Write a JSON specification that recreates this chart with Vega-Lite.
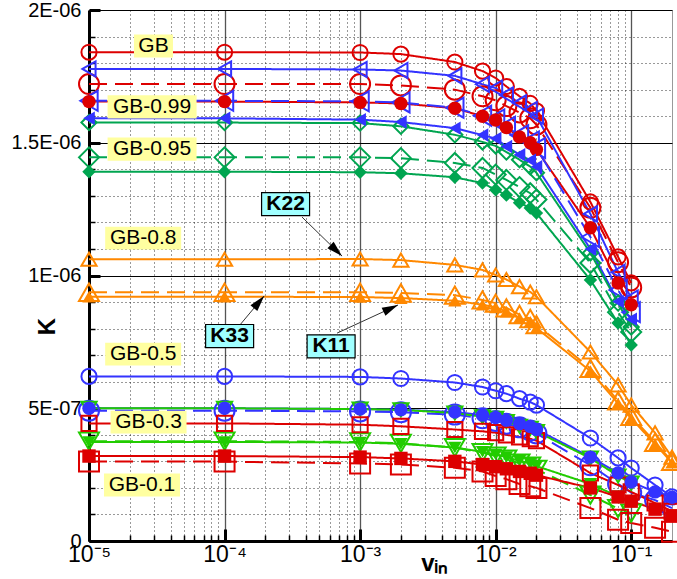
{
"$schema": "https://vega.github.io/schema/vega-lite/v6.json",
"width": 583, "height": 531,
"autosize": {"type": "none"},
"padding": {"left": 89, "top": 10, "right": 5, "bottom": 38},
"config": {"view": {"stroke": "#999", "strokeWidth": 1}, "font": "Liberation Sans"},
"datasets": {
"d": [
{"g":"GB","c":"K22","v":1e-5,"K":1.841e-6},{"g":"GB","c":"K22","v":1e-4,"K":1.841e-6},{"g":"GB","c":"K22","v":0.001,"K":1.840e-6},{"g":"GB","c":"K22","v":0.002,"K":1.834e-6},{"g":"GB","c":"K22","v":0.005,"K":1.804e-6},{"g":"GB","c":"K22","v":0.008,"K":1.770e-6},{"g":"GB","c":"K22","v":0.01,"K":1.744e-6},{"g":"GB","c":"K22","v":0.012,"K":1.712e-6},{"g":"GB","c":"K22","v":0.015,"K":1.675e-6},{"g":"GB","c":"K22","v":0.018,"K":1.648e-6},{"g":"GB","c":"K22","v":0.02,"K":1.620e-6},{"g":"GB","c":"K22","v":0.05,"K":1.277e-6},{"g":"GB","c":"K22","v":0.08,"K":1.070e-6},{"g":"GB","c":"K22","v":0.1,"K":0.972e-6},
{"g":"GB","c":"K33","v":1e-5,"K":1.721e-6},{"g":"GB","c":"K33","v":1e-4,"K":1.721e-6},{"g":"GB","c":"K33","v":0.001,"K":1.721e-6},{"g":"GB","c":"K33","v":0.002,"K":1.716e-6},{"g":"GB","c":"K33","v":0.005,"K":1.700e-6},{"g":"GB","c":"K33","v":0.008,"K":1.675e-6},{"g":"GB","c":"K33","v":0.01,"K":1.660e-6},{"g":"GB","c":"K33","v":0.012,"K":1.638e-6},{"g":"GB","c":"K33","v":0.015,"K":1.614e-6},{"g":"GB","c":"K33","v":0.018,"K":1.592e-6},{"g":"GB","c":"K33","v":0.02,"K":1.568e-6},{"g":"GB","c":"K33","v":0.05,"K":1.255e-6},{"g":"GB","c":"K33","v":0.08,"K":1.050e-6},{"g":"GB","c":"K33","v":0.1,"K":0.955e-6},
{"g":"GB","c":"K11","v":1e-5,"K":1.655e-6},{"g":"GB","c":"K11","v":1e-4,"K":1.655e-6},{"g":"GB","c":"K11","v":0.001,"K":1.652e-6},{"g":"GB","c":"K11","v":0.002,"K":1.648e-6},{"g":"GB","c":"K11","v":0.005,"K":1.630e-6},{"g":"GB","c":"K11","v":0.008,"K":1.600e-6},{"g":"GB","c":"K11","v":0.01,"K":1.586e-6},{"g":"GB","c":"K11","v":0.012,"K":1.557e-6},{"g":"GB","c":"K11","v":0.015,"K":1.522e-6},{"g":"GB","c":"K11","v":0.018,"K":1.500e-6},{"g":"GB","c":"K11","v":0.02,"K":1.475e-6},{"g":"GB","c":"K11","v":0.05,"K":1.180e-6},{"g":"GB","c":"K11","v":0.08,"K":0.972e-6},{"g":"GB","c":"K11","v":0.1,"K":0.890e-6},
{"g":"GB-0.99","c":"K22","v":1e-5,"K":1.778e-6},{"g":"GB-0.99","c":"K22","v":1e-4,"K":1.778e-6},{"g":"GB-0.99","c":"K22","v":0.001,"K":1.776e-6},{"g":"GB-0.99","c":"K22","v":0.002,"K":1.772e-6},{"g":"GB-0.99","c":"K22","v":0.005,"K":1.752e-6},{"g":"GB-0.99","c":"K22","v":0.008,"K":1.720e-6},{"g":"GB-0.99","c":"K22","v":0.01,"K":1.706e-6},{"g":"GB-0.99","c":"K22","v":0.012,"K":1.680e-6},{"g":"GB-0.99","c":"K22","v":0.015,"K":1.650e-6},{"g":"GB-0.99","c":"K22","v":0.018,"K":1.625e-6},{"g":"GB-0.99","c":"K22","v":0.02,"K":1.600e-6},{"g":"GB-0.99","c":"K22","v":0.05,"K":1.232e-6},{"g":"GB-0.99","c":"K22","v":0.08,"K":1.012e-6},{"g":"GB-0.99","c":"K22","v":0.1,"K":0.915e-6},
{"g":"GB-0.99","c":"K33","v":1e-5,"K":1.658e-6},{"g":"GB-0.99","c":"K33","v":1e-4,"K":1.658e-6},{"g":"GB-0.99","c":"K33","v":0.001,"K":1.656e-6},{"g":"GB-0.99","c":"K33","v":0.002,"K":1.652e-6},{"g":"GB-0.99","c":"K33","v":0.005,"K":1.632e-6},{"g":"GB-0.99","c":"K33","v":0.008,"K":1.602e-6},{"g":"GB-0.99","c":"K33","v":0.01,"K":1.588e-6},{"g":"GB-0.99","c":"K33","v":0.012,"K":1.560e-6},{"g":"GB-0.99","c":"K33","v":0.015,"K":1.528e-6},{"g":"GB-0.99","c":"K33","v":0.018,"K":1.505e-6},{"g":"GB-0.99","c":"K33","v":0.02,"K":1.480e-6},{"g":"GB-0.99","c":"K33","v":0.05,"K":1.145e-6},{"g":"GB-0.99","c":"K33","v":0.08,"K":0.945e-6},{"g":"GB-0.99","c":"K33","v":0.1,"K":0.862e-6},
{"g":"GB-0.99","c":"K11","v":1e-5,"K":1.592e-6},{"g":"GB-0.99","c":"K11","v":1e-4,"K":1.592e-6},{"g":"GB-0.99","c":"K11","v":0.001,"K":1.587e-6},{"g":"GB-0.99","c":"K11","v":0.002,"K":1.578e-6},{"g":"GB-0.99","c":"K11","v":0.005,"K":1.555e-6},{"g":"GB-0.99","c":"K11","v":0.008,"K":1.529e-6},{"g":"GB-0.99","c":"K11","v":0.01,"K":1.516e-6},{"g":"GB-0.99","c":"K11","v":0.012,"K":1.486e-6},{"g":"GB-0.99","c":"K11","v":0.015,"K":1.455e-6},{"g":"GB-0.99","c":"K11","v":0.018,"K":1.434e-6},{"g":"GB-0.99","c":"K11","v":0.02,"K":1.410e-6},{"g":"GB-0.99","c":"K11","v":0.05,"K":1.100e-6},{"g":"GB-0.99","c":"K11","v":0.08,"K":0.902e-6},{"g":"GB-0.99","c":"K11","v":0.1,"K":0.835e-6},
{"g":"GB-0.95","c":"K22","v":1e-5,"K":1.576e-6},{"g":"GB-0.95","c":"K22","v":1e-4,"K":1.576e-6},{"g":"GB-0.95","c":"K22","v":0.001,"K":1.574e-6},{"g":"GB-0.95","c":"K22","v":0.002,"K":1.562e-6},{"g":"GB-0.95","c":"K22","v":0.005,"K":1.530e-6},{"g":"GB-0.95","c":"K22","v":0.008,"K":1.503e-6},{"g":"GB-0.95","c":"K22","v":0.01,"K":1.488e-6},{"g":"GB-0.95","c":"K22","v":0.012,"K":1.465e-6},{"g":"GB-0.95","c":"K22","v":0.015,"K":1.436e-6},{"g":"GB-0.95","c":"K22","v":0.018,"K":1.410e-6},{"g":"GB-0.95","c":"K22","v":0.02,"K":1.387e-6},{"g":"GB-0.95","c":"K22","v":0.05,"K":1.085e-6},{"g":"GB-0.95","c":"K22","v":0.08,"K":0.896e-6},{"g":"GB-0.95","c":"K22","v":0.1,"K":0.806e-6},
{"g":"GB-0.95","c":"K33","v":1e-5,"K":1.445e-6},{"g":"GB-0.95","c":"K33","v":1e-4,"K":1.445e-6},{"g":"GB-0.95","c":"K33","v":0.001,"K":1.445e-6},{"g":"GB-0.95","c":"K33","v":0.002,"K":1.442e-6},{"g":"GB-0.95","c":"K33","v":0.005,"K":1.424e-6},{"g":"GB-0.95","c":"K33","v":0.008,"K":1.405e-6},{"g":"GB-0.95","c":"K33","v":0.01,"K":1.380e-6},{"g":"GB-0.95","c":"K33","v":0.012,"K":1.360e-6},{"g":"GB-0.95","c":"K33","v":0.015,"K":1.333e-6},{"g":"GB-0.95","c":"K33","v":0.018,"K":1.310e-6},{"g":"GB-0.95","c":"K33","v":0.02,"K":1.286e-6},{"g":"GB-0.95","c":"K33","v":0.05,"K":1.047e-6},{"g":"GB-0.95","c":"K33","v":0.08,"K":0.862e-6},{"g":"GB-0.95","c":"K33","v":0.1,"K":0.787e-6},
{"g":"GB-0.95","c":"K11","v":1e-5,"K":1.391e-6},{"g":"GB-0.95","c":"K11","v":1e-4,"K":1.391e-6},{"g":"GB-0.95","c":"K11","v":0.001,"K":1.389e-6},{"g":"GB-0.95","c":"K11","v":0.002,"K":1.385e-6},{"g":"GB-0.95","c":"K11","v":0.005,"K":1.370e-6},{"g":"GB-0.95","c":"K11","v":0.008,"K":1.348e-6},{"g":"GB-0.95","c":"K11","v":0.01,"K":1.323e-6},{"g":"GB-0.95","c":"K11","v":0.012,"K":1.303e-6},{"g":"GB-0.95","c":"K11","v":0.015,"K":1.274e-6},{"g":"GB-0.95","c":"K11","v":0.018,"K":1.254e-6},{"g":"GB-0.95","c":"K11","v":0.02,"K":1.235e-6},{"g":"GB-0.95","c":"K11","v":0.05,"K":0.983e-6},{"g":"GB-0.95","c":"K11","v":0.08,"K":0.821e-6},{"g":"GB-0.95","c":"K11","v":0.1,"K":0.738e-6},
{"g":"GB-0.8","c":"K22","v":1e-5,"K":1.061e-6},{"g":"GB-0.8","c":"K22","v":1e-4,"K":1.061e-6},{"g":"GB-0.8","c":"K22","v":0.001,"K":1.062e-6},{"g":"GB-0.8","c":"K22","v":0.002,"K":1.058e-6},{"g":"GB-0.8","c":"K22","v":0.005,"K":1.040e-6},{"g":"GB-0.8","c":"K22","v":0.008,"K":1.021e-6},{"g":"GB-0.8","c":"K22","v":0.01,"K":1.002e-6},{"g":"GB-0.8","c":"K22","v":0.012,"K":0.985e-6},{"g":"GB-0.8","c":"K22","v":0.015,"K":0.958e-6},{"g":"GB-0.8","c":"K22","v":0.018,"K":0.938e-6},{"g":"GB-0.8","c":"K22","v":0.02,"K":0.920e-6},{"g":"GB-0.8","c":"K22","v":0.05,"K":0.712e-6},{"g":"GB-0.8","c":"K22","v":0.08,"K":0.588e-6},{"g":"GB-0.8","c":"K22","v":0.1,"K":0.512e-6},{"g":"GB-0.8","c":"K22","v":0.15,"K":0.407e-6},{"g":"GB-0.8","c":"K22","v":0.2,"K":0.316e-6},
{"g":"GB-0.8","c":"K33","v":1e-5,"K":0.937e-6},{"g":"GB-0.8","c":"K33","v":1e-4,"K":0.937e-6},{"g":"GB-0.8","c":"K33","v":0.001,"K":0.937e-6},{"g":"GB-0.8","c":"K33","v":0.002,"K":0.934e-6},{"g":"GB-0.8","c":"K33","v":0.005,"K":0.926e-6},{"g":"GB-0.8","c":"K33","v":0.008,"K":0.908e-6},{"g":"GB-0.8","c":"K33","v":0.01,"K":0.896e-6},{"g":"GB-0.8","c":"K33","v":0.012,"K":0.878e-6},{"g":"GB-0.8","c":"K33","v":0.015,"K":0.853e-6},{"g":"GB-0.8","c":"K33","v":0.018,"K":0.838e-6},{"g":"GB-0.8","c":"K33","v":0.02,"K":0.815e-6},{"g":"GB-0.8","c":"K33","v":0.05,"K":0.650e-6},{"g":"GB-0.8","c":"K33","v":0.08,"K":0.528e-6},{"g":"GB-0.8","c":"K33","v":0.1,"K":0.470e-6},{"g":"GB-0.8","c":"K33","v":0.15,"K":0.372e-6},{"g":"GB-0.8","c":"K33","v":0.2,"K":0.300e-6},
{"g":"GB-0.8","c":"K11","v":1e-5,"K":0.920e-6},{"g":"GB-0.8","c":"K11","v":1e-4,"K":0.920e-6},{"g":"GB-0.8","c":"K11","v":0.001,"K":0.919e-6},{"g":"GB-0.8","c":"K11","v":0.002,"K":0.915e-6},{"g":"GB-0.8","c":"K11","v":0.005,"K":0.905e-6},{"g":"GB-0.8","c":"K11","v":0.008,"K":0.890e-6},{"g":"GB-0.8","c":"K11","v":0.01,"K":0.880e-6},{"g":"GB-0.8","c":"K11","v":0.012,"K":0.864e-6},{"g":"GB-0.8","c":"K11","v":0.015,"K":0.840e-6},{"g":"GB-0.8","c":"K11","v":0.018,"K":0.826e-6},{"g":"GB-0.8","c":"K11","v":0.02,"K":0.802e-6},{"g":"GB-0.8","c":"K11","v":0.05,"K":0.640e-6},{"g":"GB-0.8","c":"K11","v":0.08,"K":0.518e-6},{"g":"GB-0.8","c":"K11","v":0.1,"K":0.462e-6},{"g":"GB-0.8","c":"K11","v":0.15,"K":0.365e-6},{"g":"GB-0.8","c":"K11","v":0.2,"K":0.295e-6},
{"g":"GB-0.5","c":"K22","v":1e-5,"K":0.620e-6},{"g":"GB-0.5","c":"K22","v":1e-4,"K":0.620e-6},{"g":"GB-0.5","c":"K22","v":0.001,"K":0.618e-6},{"g":"GB-0.5","c":"K22","v":0.002,"K":0.612e-6},{"g":"GB-0.5","c":"K22","v":0.005,"K":0.597e-6},{"g":"GB-0.5","c":"K22","v":0.008,"K":0.580e-6},{"g":"GB-0.5","c":"K22","v":0.01,"K":0.566e-6},{"g":"GB-0.5","c":"K22","v":0.012,"K":0.555e-6},{"g":"GB-0.5","c":"K22","v":0.015,"K":0.536e-6},{"g":"GB-0.5","c":"K22","v":0.018,"K":0.523e-6},{"g":"GB-0.5","c":"K22","v":0.02,"K":0.512e-6},{"g":"GB-0.5","c":"K22","v":0.05,"K":0.388e-6},{"g":"GB-0.5","c":"K22","v":0.08,"K":0.313e-6},{"g":"GB-0.5","c":"K22","v":0.1,"K":0.275e-6},{"g":"GB-0.5","c":"K22","v":0.15,"K":0.211e-6},{"g":"GB-0.5","c":"K22","v":0.2,"K":0.166e-6},
{"g":"GB-0.5","c":"K33","v":1e-5,"K":0.491e-6},{"g":"GB-0.5","c":"K33","v":1e-4,"K":0.491e-6},{"g":"GB-0.5","c":"K33","v":0.001,"K":0.488e-6},{"g":"GB-0.5","c":"K33","v":0.002,"K":0.485e-6},{"g":"GB-0.5","c":"K33","v":0.005,"K":0.476e-6},{"g":"GB-0.5","c":"K33","v":0.008,"K":0.462e-6},{"g":"GB-0.5","c":"K33","v":0.01,"K":0.452e-6},{"g":"GB-0.5","c":"K33","v":0.012,"K":0.442e-6},{"g":"GB-0.5","c":"K33","v":0.015,"K":0.428e-6},{"g":"GB-0.5","c":"K33","v":0.018,"K":0.416e-6},{"g":"GB-0.5","c":"K33","v":0.02,"K":0.405e-6},{"g":"GB-0.5","c":"K33","v":0.05,"K":0.285e-6},{"g":"GB-0.5","c":"K33","v":0.08,"K":0.215e-6},{"g":"GB-0.5","c":"K33","v":0.1,"K":0.182e-6},{"g":"GB-0.5","c":"K33","v":0.15,"K":0.154e-6},{"g":"GB-0.5","c":"K33","v":0.2,"K":0.124e-6},
{"g":"GB-0.5","c":"K11","v":1e-5,"K":0.500e-6},{"g":"GB-0.5","c":"K11","v":1e-4,"K":0.500e-6},{"g":"GB-0.5","c":"K11","v":0.001,"K":0.497e-6},{"g":"GB-0.5","c":"K11","v":0.002,"K":0.494e-6},{"g":"GB-0.5","c":"K11","v":0.005,"K":0.486e-6},{"g":"GB-0.5","c":"K11","v":0.008,"K":0.474e-6},{"g":"GB-0.5","c":"K11","v":0.01,"K":0.465e-6},{"g":"GB-0.5","c":"K11","v":0.012,"K":0.455e-6},{"g":"GB-0.5","c":"K11","v":0.015,"K":0.442e-6},{"g":"GB-0.5","c":"K11","v":0.018,"K":0.431e-6},{"g":"GB-0.5","c":"K11","v":0.02,"K":0.420e-6},{"g":"GB-0.5","c":"K11","v":0.05,"K":0.316e-6},{"g":"GB-0.5","c":"K11","v":0.08,"K":0.256e-6},{"g":"GB-0.5","c":"K11","v":0.1,"K":0.222e-6},{"g":"GB-0.5","c":"K11","v":0.15,"K":0.185e-6},{"g":"GB-0.5","c":"K11","v":0.2,"K":0.165e-6},
{"g":"GB-0.3","c":"K22","v":1e-5,"K":0.500e-6},{"g":"GB-0.3","c":"K22","v":1e-4,"K":0.500e-6},{"g":"GB-0.3","c":"K22","v":0.001,"K":0.497e-6},{"g":"GB-0.3","c":"K22","v":0.002,"K":0.494e-6},{"g":"GB-0.3","c":"K22","v":0.005,"K":0.482e-6},{"g":"GB-0.3","c":"K22","v":0.008,"K":0.468e-6},{"g":"GB-0.3","c":"K22","v":0.01,"K":0.462e-6},{"g":"GB-0.3","c":"K22","v":0.012,"K":0.450e-6},{"g":"GB-0.3","c":"K22","v":0.015,"K":0.432e-6},{"g":"GB-0.3","c":"K22","v":0.018,"K":0.424e-6},{"g":"GB-0.3","c":"K22","v":0.02,"K":0.412e-6},{"g":"GB-0.3","c":"K22","v":0.05,"K":0.312e-6},{"g":"GB-0.3","c":"K22","v":0.08,"K":0.245e-6},{"g":"GB-0.3","c":"K22","v":0.1,"K":0.218e-6},
{"g":"GB-0.3","c":"K33","v":1e-5,"K":0.376e-6},{"g":"GB-0.3","c":"K33","v":1e-4,"K":0.376e-6},{"g":"GB-0.3","c":"K33","v":0.001,"K":0.373e-6},{"g":"GB-0.3","c":"K33","v":0.002,"K":0.368e-6},{"g":"GB-0.3","c":"K33","v":0.005,"K":0.352e-6},{"g":"GB-0.3","c":"K33","v":0.008,"K":0.333e-6},{"g":"GB-0.3","c":"K33","v":0.01,"K":0.320e-6},{"g":"GB-0.3","c":"K33","v":0.012,"K":0.308e-6},{"g":"GB-0.3","c":"K33","v":0.015,"K":0.293e-6},{"g":"GB-0.3","c":"K33","v":0.018,"K":0.282e-6},{"g":"GB-0.3","c":"K33","v":0.02,"K":0.270e-6},{"g":"GB-0.3","c":"K33","v":0.05,"K":0.173e-6},{"g":"GB-0.3","c":"K33","v":0.08,"K":0.122e-6},{"g":"GB-0.3","c":"K33","v":0.1,"K":0.105e-6},
{"g":"GB-0.3","c":"K11","v":1e-5,"K":0.373e-6},{"g":"GB-0.3","c":"K11","v":1e-4,"K":0.373e-6},{"g":"GB-0.3","c":"K11","v":0.001,"K":0.371e-6},{"g":"GB-0.3","c":"K11","v":0.002,"K":0.366e-6},{"g":"GB-0.3","c":"K11","v":0.005,"K":0.352e-6},{"g":"GB-0.3","c":"K11","v":0.008,"K":0.336e-6},{"g":"GB-0.3","c":"K11","v":0.01,"K":0.326e-6},{"g":"GB-0.3","c":"K11","v":0.012,"K":0.316e-6},{"g":"GB-0.3","c":"K11","v":0.015,"K":0.302e-6},{"g":"GB-0.3","c":"K11","v":0.018,"K":0.292e-6},{"g":"GB-0.3","c":"K11","v":0.02,"K":0.282e-6},{"g":"GB-0.3","c":"K11","v":0.05,"K":0.215e-6},{"g":"GB-0.3","c":"K11","v":0.08,"K":0.168e-6},{"g":"GB-0.3","c":"K11","v":0.1,"K":0.150e-6},
{"g":"GB-0.1","c":"K22","v":1e-5,"K":0.443e-6},{"g":"GB-0.1","c":"K22","v":1e-4,"K":0.443e-6},{"g":"GB-0.1","c":"K22","v":0.001,"K":0.438e-6},{"g":"GB-0.1","c":"K22","v":0.002,"K":0.432e-6},{"g":"GB-0.1","c":"K22","v":0.005,"K":0.420e-6},{"g":"GB-0.1","c":"K22","v":0.008,"K":0.413e-6},{"g":"GB-0.1","c":"K22","v":0.01,"K":0.408e-6},{"g":"GB-0.1","c":"K22","v":0.012,"K":0.400e-6},{"g":"GB-0.1","c":"K22","v":0.015,"K":0.392e-6},{"g":"GB-0.1","c":"K22","v":0.018,"K":0.385e-6},{"g":"GB-0.1","c":"K22","v":0.02,"K":0.378e-6},{"g":"GB-0.1","c":"K22","v":0.05,"K":0.256e-6},{"g":"GB-0.1","c":"K22","v":0.08,"K":0.211e-6},{"g":"GB-0.1","c":"K22","v":0.1,"K":0.185e-6},{"g":"GB-0.1","c":"K22","v":0.15,"K":0.143e-6},{"g":"GB-0.1","c":"K22","v":0.2,"K":0.112e-6},
{"g":"GB-0.1","c":"K33","v":1e-5,"K":0.299e-6},{"g":"GB-0.1","c":"K33","v":1e-4,"K":0.299e-6},{"g":"GB-0.1","c":"K33","v":0.001,"K":0.292e-6},{"g":"GB-0.1","c":"K33","v":0.002,"K":0.288e-6},{"g":"GB-0.1","c":"K33","v":0.005,"K":0.276e-6},{"g":"GB-0.1","c":"K33","v":0.008,"K":0.262e-6},{"g":"GB-0.1","c":"K33","v":0.01,"K":0.245e-6},{"g":"GB-0.1","c":"K33","v":0.012,"K":0.233e-6},{"g":"GB-0.1","c":"K33","v":0.015,"K":0.215e-6},{"g":"GB-0.1","c":"K33","v":0.018,"K":0.206e-6},{"g":"GB-0.1","c":"K33","v":0.02,"K":0.200e-6},{"g":"GB-0.1","c":"K33","v":0.05,"K":0.124e-6},{"g":"GB-0.1","c":"K33","v":0.08,"K":0.080e-6},{"g":"GB-0.1","c":"K33","v":0.1,"K":0.068e-6},{"g":"GB-0.1","c":"K33","v":0.15,"K":0.050e-6},{"g":"GB-0.1","c":"K33","v":0.2,"K":0.035e-6},
{"g":"GB-0.1","c":"K11","v":1e-5,"K":0.320e-6},{"g":"GB-0.1","c":"K11","v":1e-4,"K":0.320e-6},{"g":"GB-0.1","c":"K11","v":0.001,"K":0.316e-6},{"g":"GB-0.1","c":"K11","v":0.002,"K":0.311e-6},{"g":"GB-0.1","c":"K11","v":0.005,"K":0.300e-6},{"g":"GB-0.1","c":"K11","v":0.008,"K":0.288e-6},{"g":"GB-0.1","c":"K11","v":0.01,"K":0.280e-6},{"g":"GB-0.1","c":"K11","v":0.012,"K":0.272e-6},{"g":"GB-0.1","c":"K11","v":0.015,"K":0.262e-6},{"g":"GB-0.1","c":"K11","v":0.018,"K":0.255e-6},{"g":"GB-0.1","c":"K11","v":0.02,"K":0.248e-6},{"g":"GB-0.1","c":"K11","v":0.05,"K":0.200e-6},{"g":"GB-0.1","c":"K11","v":0.08,"K":0.166e-6},{"g":"GB-0.1","c":"K11","v":0.1,"K":0.150e-6},{"g":"GB-0.1","c":"K11","v":0.15,"K":0.120e-6},{"g":"GB-0.1","c":"K11","v":0.2,"K":0.095e-6}
],
"labels": [
{"t":"GB","v":2.99e-5,"K":1.864e-6},
{"t":"GB-0.99","v":2.92e-5,"K":1.635e-6},
{"t":"GB-0.95","v":2.92e-5,"K":1.476e-6},
{"t":"GB-0.8","v":2.51e-5,"K":1.141e-6},
{"t":"GB-0.5","v":2.51e-5,"K":0.704e-6},
{"t":"GB-0.3","v":2.75e-5,"K":0.448e-6},
{"t":"GB-0.1","v":2.46e-5,"K":0.211e-6}
],
"klabels": [
{"t":"K22","v":2.82e-4,"K":1.269e-6},
{"t":"K33","v":1.09e-4,"K":0.772e-6},
{"t":"K11","v":6.11e-4,"K":0.733e-6}
],
"arrows": [
{"t":"K22","v":3.73e-4,"K":1.220e-6,"v2":7.36e-4,"K2":1.073e-6},
{"t":"K33","v":1.30e-4,"K":0.814e-6,"v2":1.96e-4,"K2":0.923e-6},
{"t":"K11","v":6.76e-4,"K":0.783e-6,"v2":1.905e-3,"K2":0.889e-6}
]
},
"layer": [
{
"data": {"name": "d"},
"mark": {"type": "line", "strokeWidth": 2},
"encoding": {
"x": {"field": "v", "type": "quantitative", "scale": {"type": "log", "domain": [1e-5, 0.2], "nice": false},
"axis": {"orient": "bottom", "values": [2e-5,3e-5,4e-5,5e-5,6e-5,7e-5,8e-5,9e-5,2e-4,3e-4,4e-4,5e-4,6e-4,7e-4,8e-4,9e-4,2e-3,3e-3,4e-3,5e-3,6e-3,7e-3,8e-3,9e-3,0.02,0.03,0.04,0.05,0.06,0.07,0.08,0.09],
"grid": true, "gridDash": [1, 3], "gridColor": "#000", "gridWidth": 1, "gridOpacity": 0.8,
"labels": false, "domain": false, "ticks": true, "tickSize": -6, "tickColor": "#000", "tickWidth": 1.5, "title": null}},
"y": {"field": "K", "type": "quantitative", "scale": {"domain": [0, 2e-6], "nice": false, "zero": false},
"axis": {"orient": "left", "values": [1e-7,2e-7,3e-7,4e-7,6e-7,7e-7,8e-7,9e-7,1.1e-6,1.2e-6,1.3e-6,1.4e-6,1.6e-6,1.7e-6,1.8e-6,1.9e-6],
"grid": true, "gridDash": [1, 3], "gridColor": "#000", "gridWidth": 1, "gridOpacity": 0.8,
"labels": false, "domain": false, "ticks": true, "tickSize": -6, "tickColor": "#000", "tickWidth": 1.5, "title": null}},
"color": {"field": "g", "type": "nominal", "legend": null,
"scale": {"domain": ["GB","GB-0.99","GB-0.95","GB-0.8","GB-0.5","GB-0.3","GB-0.1"],
"range": ["#dd0000","#3333ff","#00a550","#ff8800","#3333ff","#22cc00","#dd0000"]}},
"strokeDash": {"field": "c", "type": "nominal", "legend": null,
"scale": {"domain": ["K11","K22","K33"], "range": [[1,0],[1,0],[18,8]]}}
}
},
{
"data": {"name": "d"},
"transform": [{"filter": "datum.c != 'K11'"}],
"mark": {"type": "point", "filled": false, "strokeWidth": 2, "opacity": 1},
"encoding": {
"x": {"field": "v", "type": "quantitative", "scale": {"type": "log", "domain": [1e-5, 0.2], "nice": false},
"axis": {"orient": "bottom", "values": [1e-5,1e-4,1e-3,1e-2,1e-1], "grid": true, "gridColor": "#555", "gridWidth": 1.3,
"labelExpr": "datum.value < 2e-5 ? '10⁻⁵' : datum.value < 2e-4 ? '10⁻⁴' : datum.value < 2e-3 ? '10⁻³' : datum.value < 2e-2 ? '10⁻²' : '10⁻¹'",
"labelFontSize": 23, "labelColor": "#000", "labelFlush": false, "labelOverlap": false, "labelPadding": 14,
"domain": true, "domainColor": "#000", "domainWidth": 3,
"ticks": true, "tickSize": -12, "tickColor": "#000", "tickWidth": 3,
"title": "vᵢₙ", "titleFontSize": 24, "titleFontWeight": "bold", "titleColor": "#000", "titleX": 345, "titleY": 22, "titleBaseline": "middle", "titleAlign": "center"}},
"y": {"field": "K", "type": "quantitative", "scale": {"domain": [0, 2e-6], "nice": false, "zero": false},
"axis": {"orient": "left", "values": [0, 5e-7, 1e-6, 1.5e-6, 2e-6], "grid": true, "gridColor": "#000", "gridWidth": 1,
"labelExpr": "abs(datum.value) < 1e-9 ? '0' : abs(datum.value - 5e-7) < 1e-9 ? '5E-07' : abs(datum.value - 1e-6) < 1e-9 ? '1E-06' : abs(datum.value - 1.5e-6) < 1e-9 ? '1.5E-06' : '2E-06'",
"labelFontSize": 20, "labelColor": "#000", "labelFlush": false, "labelOverlap": false, "labelPadding": 19,
"domain": true, "domainColor": "#000", "domainWidth": 3,
"ticks": true, "tickSize": -11, "tickColor": "#000", "tickWidth": 3,
"title": "K", "titleFontSize": 24, "titleFontWeight": "bold", "titleColor": "#000", "titleX": -42, "titleY": 316, "titleAngle": -90, "titleBaseline": "middle", "titleAlign": "center"}},
"color": {"field": "g", "type": "nominal", "legend": null,
"scale": {"domain": ["GB","GB-0.99","GB-0.95","GB-0.8","GB-0.5","GB-0.3","GB-0.1"],
"range": ["#dd0000","#3333ff","#00a550","#ff8800","#3333ff","#22cc00","#dd0000"]}},
"shape": {"field": "g", "type": "nominal", "legend": null,
"scale": {"domain": ["GB","GB-0.99","GB-0.95","GB-0.8","GB-0.5","GB-0.3","GB-0.1"],
"range": ["circle","triangle-left","diamond","triangle-up","circle","triangle-down","square"]}},
"size": {"condition": {"test": "datum.c == 'K33'", "value": 400}, "value": 230}
}
},
{
"data": {"name": "d"},
"transform": [{"filter": "datum.c == 'K11'"}],
"mark": {"type": "point", "filled": true, "opacity": 1, "size": 180},
"encoding": {
"x": {"field": "v", "type": "quantitative", "scale": {"type": "log", "domain": [1e-5, 0.2], "nice": false}, "axis": null},
"y": {"field": "K", "type": "quantitative", "scale": {"domain": [0, 2e-6], "nice": false, "zero": false}, "axis": null},
"color": {"field": "g", "type": "nominal", "legend": null,
"scale": {"domain": ["GB","GB-0.99","GB-0.95","GB-0.8","GB-0.5","GB-0.3","GB-0.1"],
"range": ["#dd0000","#3333ff","#00a550","#ff8800","#3333ff","#22cc00","#dd0000"]}},
"shape": {"field": "g", "type": "nominal", "legend": null,
"scale": {"domain": ["GB","GB-0.99","GB-0.95","GB-0.8","GB-0.5","GB-0.3","GB-0.1"],
"range": ["circle","triangle-left","diamond","triangle-up","circle","triangle-down","square"]}}
}
},
{
"data": {"name": "labels"},
"mark": {"type": "point", "filled": true, "fill": "#ffffa0", "strokeWidth": 0, "opacity": 1},
"encoding": {
"x": {"field": "v", "type": "quantitative", "scale": {"type": "log", "domain": [1e-5, 0.2], "nice": false}, "axis": null},
"y": {"field": "K", "type": "quantitative", "scale": {"domain": [0, 2e-6], "nice": false, "zero": false}, "axis": null},
"shape": {"condition": [{"test": "datum.t == 'GB'", "value": "M-1,-0.59L1,-0.59L1,0.59L-1,0.59Z"}, {"test": "datum.t == 'GB-0.99' || datum.t == 'GB-0.95'", "value": "M-1,-0.26L1,-0.26L1,0.26L-1,0.26Z"}], "value": "M-1,-0.3L1,-0.3L1,0.3L-1,0.3Z"},
"size": {"condition": [{"test": "datum.t == 'GB'", "value": 1521}, {"test": "datum.t == 'GB-0.99' || datum.t == 'GB-0.95'", "value": 7921}], "value": 5776}
}
},
{
"data": {"name": "labels"},
"mark": {"type": "text", "fontSize": 21, "color": "#000", "align": "center", "baseline": "middle", "font": "Liberation Sans"},
"encoding": {
"x": {"field": "v", "type": "quantitative", "scale": {"type": "log", "domain": [1e-5, 0.2], "nice": false}, "axis": null},
"y": {"field": "K", "type": "quantitative", "scale": {"domain": [0, 2e-6], "nice": false, "zero": false}, "axis": null},
"text": {"field": "t"}
}
},
{
"data": {"name": "arrows"},
"mark": {"type": "rule", "color": "#333", "strokeWidth": 1},
"encoding": {
"x": {"field": "v", "type": "quantitative", "scale": {"type": "log", "domain": [1e-5, 0.2], "nice": false}, "axis": null},
"y": {"field": "K", "type": "quantitative", "scale": {"domain": [0, 2e-6], "nice": false, "zero": false}, "axis": null},
"x2": {"field": "v2"},
"y2": {"field": "K2"}
}
},
{
"data": {"name": "arrows"},
"mark": {"type": "point", "filled": true, "fill": "#000", "strokeWidth": 0, "opacity": 1, "shape": "M0,0L0.45,1.6L-0.45,1.6Z", "size": 400},
"encoding": {
"x": {"field": "v2", "type": "quantitative", "scale": {"type": "log", "domain": [1e-5, 0.2], "nice": false}, "axis": null},
"y": {"field": "K2", "type": "quantitative", "scale": {"domain": [0, 2e-6], "nice": false, "zero": false}, "axis": null},
"angle": {"condition": [{"test": "datum.t == 'K22'", "value": 134}, {"test": "datum.t == 'K33'", "value": 40}], "value": 65}
}
},
{
"data": {"name": "klabels"},
"mark": {"type": "point", "filled": true, "fill": "#a0ffff", "stroke": "#000", "strokeWidth": 1.2, "opacity": 1, "shape": "M-1,-0.48L1,-0.48L1,0.48L-1,0.48Z", "size": 2304},
"encoding": {
"x": {"field": "v", "type": "quantitative", "scale": {"type": "log", "domain": [1e-5, 0.2], "nice": false}, "axis": null},
"y": {"field": "K", "type": "quantitative", "scale": {"domain": [0, 2e-6], "nice": false, "zero": false}, "axis": null}
}
},
{
"data": {"name": "klabels"},
"mark": {"type": "text", "fontSize": 21, "fontWeight": "bold", "color": "#000", "align": "center", "baseline": "middle", "font": "Liberation Sans"},
"encoding": {
"x": {"field": "v", "type": "quantitative", "scale": {"type": "log", "domain": [1e-5, 0.2], "nice": false}, "axis": null},
"y": {"field": "K", "type": "quantitative", "scale": {"domain": [0, 2e-6], "nice": false, "zero": false}, "axis": null},
"text": {"field": "t"}
}
}
],
"resolve": {"axis": {"x": "independent", "y": "independent"}}
}
